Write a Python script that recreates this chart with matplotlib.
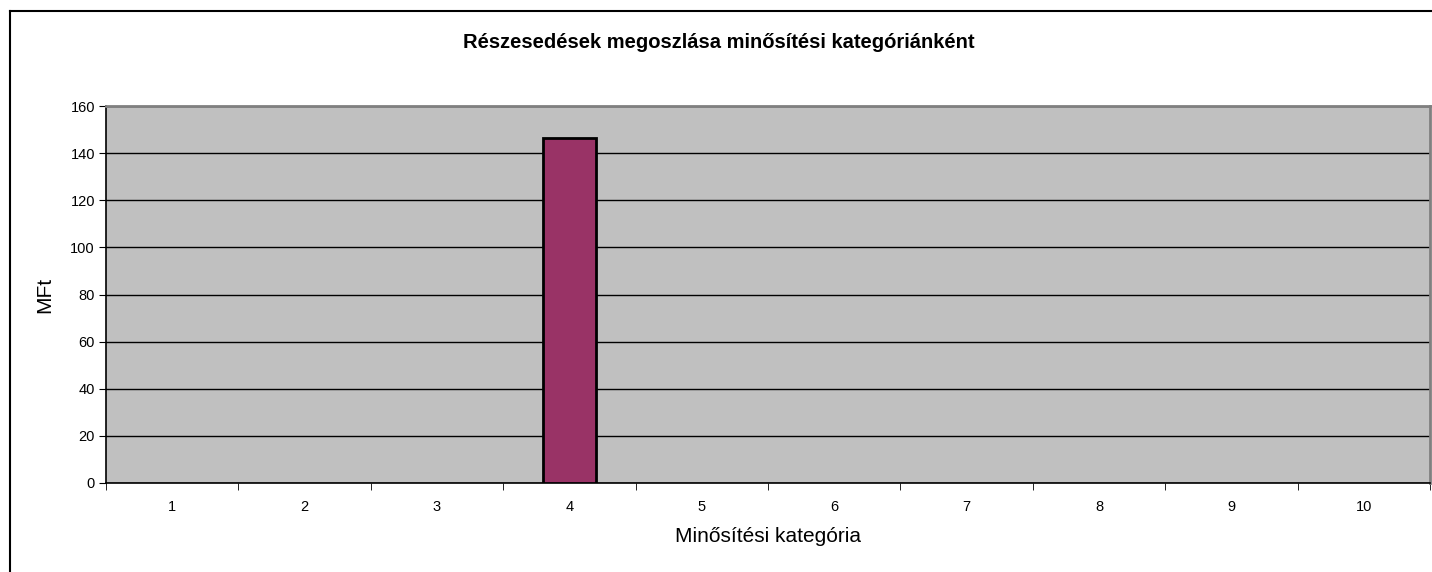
import matplotlib
matplotlib.use("Agg")
import matplotlib.pyplot as plt
from matplotlib.lines import Line2D

categories = [1, 2, 3, 4, 5, 6, 7, 8, 9, 10]
values = [0, 0, 0, 146.5, 0, 0, 0, 0, 0, 0]
yticks = [0, 20, 40, 60, 80, 100, 120, 140, 160]

plt.rcParams['font.family'] = ['Liberation Sans', 'DejaVu Sans']

W, H = 1432, 572
fig = plt.figure(figsize=(W/100, H/100), dpi=100)
fig.patch.set_facecolor('white')

# figure border (left and top visible)
fig.add_artist(Line2D([9.5/W, 9.5/W], [0, 1 - 10.5/H], transform=fig.transFigure, color='black', lw=1.5))
fig.add_artist(Line2D([9.5/W, 1], [1 - 10.5/H, 1 - 10.5/H], transform=fig.transFigure, color='black', lw=1.5))

left, right, top, bottom = 106, 1430, 106, 483
ax = fig.add_axes([left/W, 1 - bottom/H, (right-left)/W, (bottom-top)/H])
ax.set_facecolor('#C0C0C0')

x = list(range(len(categories)))
lws = [2 if v > 0 else 0 for v in values]
ax.bar(x, values, width=0.4, color='#993366', edgecolor='black', linewidth=lws, zorder=3)

ax.set_xlim(-0.5, len(categories) - 0.5)
ax.set_ylim(0, 160)
ax.set_yticks(yticks)
ax.set_yticklabels([str(v) for v in yticks], fontsize=10.5)
ax.yaxis.grid(True, color='black', linewidth=1, zorder=1)
ax.set_axisbelow(True)

ax.set_xticks(x)
ax.set_xticklabels([str(c) for c in categories], fontsize=10.5)
ax.set_xticks([i - 0.5 for i in range(len(categories) + 1)], minor=True)
ax.tick_params(axis='x', which='major', length=0, pad=12)
ax.tick_params(axis='x', which='minor', length=5, direction='out', color='black')
ax.tick_params(axis='y', length=5, direction='out', color='black', pad=3)

for s in ['top', 'right']:
    ax.spines[s].set_color('#808080')
    ax.spines[s].set_linewidth(2)
for s in ['left', 'bottom']:
    ax.spines[s].set_color('black')
    ax.spines[s].set_linewidth(1.2)

fig.text((left + right) / 2 / W, 1 - 537/H, 'Minősítési kategória',
         ha='center', va='center', fontsize=15)
fig.text(45/W, 1 - (top + bottom) / 2 / H, 'MFt', rotation=90,
         ha='center', va='center', fontsize=15)

fig.text(719/W, 1 - 42/H, 'Részesedések megoszlása minősítési kategóriánként',
         ha='center', va='center', fontsize=14.5, fontweight='bold')

fig.savefig('out.png', dpi=100, facecolor='white')
